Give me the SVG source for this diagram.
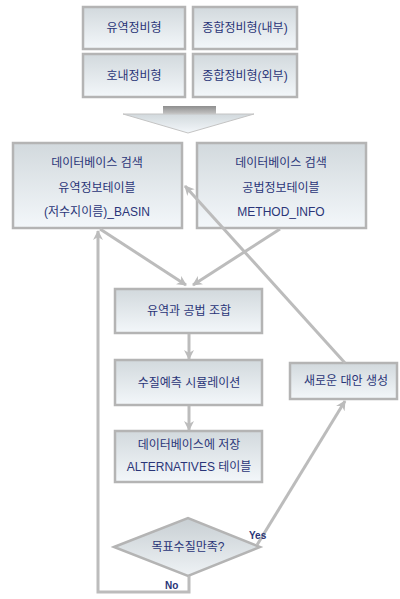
<svg xmlns="http://www.w3.org/2000/svg" width="400" height="599" viewBox="0 0 400 599">
<style>
.box{fill:url(#g);stroke:#b4b4b4;stroke-width:2.5}
.t{font-family:"Liberation Sans","Noto Sans CJK KR",sans-serif;font-size:12px;fill:#2a3578;text-anchor:middle}
.s{font-family:"Liberation Sans","Noto Sans CJK KR",sans-serif;font-size:10px;font-weight:bold;fill:#2a3578}
.c{fill:none;stroke:#bcbcbc;stroke-width:3}
.ca{fill:none;stroke:#bcbcbc;stroke-width:3;marker-end:url(#ah)}
</style>
<defs>
<linearGradient id="g" x1="0" y1="0" x2="0" y2="1">
<stop offset="0" stop-color="#d2d9dd"/>
<stop offset="1" stop-color="#f3f7fa"/>
</linearGradient>
<linearGradient id="gd" x1="0" y1="0" x2="0" y2="1">
<stop offset="0" stop-color="#c8cfd3"/>
<stop offset="1" stop-color="#eef2f5"/>
</linearGradient>
<linearGradient id="gs" x1="0" y1="0" x2="0" y2="1">
<stop offset="0" stop-color="#8e8e8e"/>
<stop offset="1" stop-color="#c4c4c4"/>
</linearGradient>
<marker id="ah" viewBox="0 0 10 10" refX="9" refY="5" markerWidth="10" markerHeight="10" markerUnits="userSpaceOnUse" orient="auto">
<path d="M0,0 L10,5 L0,10 L3,5 z" fill="#bcbcbc"/>
</marker>
</defs>

<g id="n1"><rect class="box" x="83" y="7" width="102" height="42"/><text class="t" x="134" y="32">유역정비형</text></g>
<g id="n2"><rect class="box" x="193" y="7" width="104" height="42"/><text class="t" x="245" y="32">종합정비형(내부)</text></g>
<g id="n3"><rect class="box" x="83" y="54" width="102" height="43"/><text class="t" x="134" y="80">호내정비형</text></g>
<g id="n4"><rect class="box" x="193" y="54" width="104" height="43"/><text class="t" x="245" y="80">종합정비형(외부)</text></g>

<g id="bigarrow">
<rect x="163" y="106" width="53" height="8" fill="url(#gs)"/>
<polygon points="123,114 254,114 188,133" fill="url(#g)" stroke="#c4c4c4" stroke-width="1"/>
</g>

<g id="n5"><rect class="box" x="13" y="143" width="169" height="85"/>
<text class="t" x="97" y="167">데이터베이스 검색</text>
<text class="t" x="97" y="192">유역정보테이블</text>
<text class="t" x="97" y="216">(저수지이름)_BASIN</text></g>
<g id="n6"><rect class="box" x="197" y="143" width="169" height="85"/>
<text class="t" x="281" y="167">데이터베이스 검색</text>
<text class="t" x="281" y="192">공법정보테이블</text>
<text class="t" x="281" y="216">METHOD_INFO</text></g>

<g id="n7"><rect class="box" x="115" y="289" width="147" height="44"/><text class="t" x="189" y="315">유역과 공법 조합</text></g>
<g id="n8"><rect class="box" x="115" y="360" width="147" height="45"/><text class="t" x="189" y="387">수질예측 시뮬레이션</text></g>
<g id="n9"><rect class="box" x="290" y="363" width="107" height="36"/><text class="t" x="346" y="385">새로운 대안 생성</text></g>
<g id="n10"><rect class="box" x="115" y="431" width="147" height="51"/>
<text class="t" x="189" y="449">데이터베이스에 저장</text>
<text class="t" x="189" y="471">ALTERNATIVES 테이블</text></g>

<g id="n11"><polygon points="114,547 188,518 260,547 188,576" fill="url(#gd)" stroke="#b4b4b4" stroke-width="2.5"/>
<text class="t" x="188" y="551">목표수질만족?</text></g>

<g id="connectors">
<line class="ca" x1="100" y1="229" x2="186" y2="285"/>
<line class="ca" x1="280" y1="229" x2="193" y2="285"/>
<line class="ca" x1="345" y1="363" x2="185" y2="186"/>
<line class="ca" x1="189" y1="334" x2="189" y2="359"/>
<line class="ca" x1="189" y1="406" x2="189" y2="430"/>
<line class="ca" x1="257" y1="545" x2="345" y2="401"/>
<polyline class="ca" points="189,576 189,592 98,592 98,231"/>
<text class="s" x="249" y="539">Yes</text>
<text class="s" x="165" y="589">No</text>
</g>
</svg>
